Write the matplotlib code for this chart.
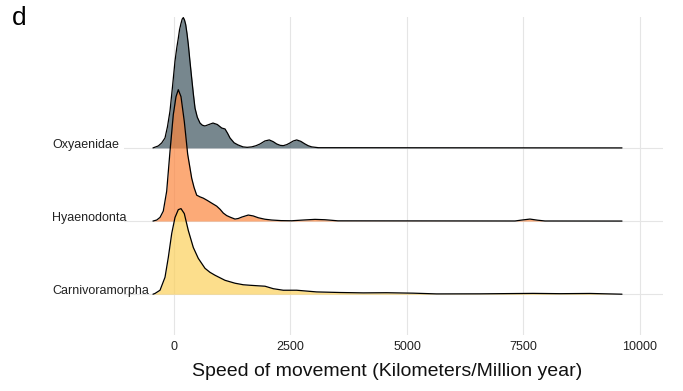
import numpy as np
import matplotlib.pyplot as plt

plt.rcParams['font.family'] = ['Liberation Sans', 'DejaVu Sans']

# Ridge rows, bottom to top
groups = ['Carnivoramorpha', 'Hyaenodonta', 'Oxyaenidae']
fill_colors = ['#fbd05b', '#fc863e', '#3d545f']

# Density ridges: speed (km/Myr) and ridge height (in row units)
oxy_speed = [-451, -337, -264, -193, -140, -86, -30, 21, 60, 92, 120, 150, 175, 200,
             225, 251, 280, 307, 340, 380, 415, 451, 500, 558, 610, 665, 750, 837,
             930, 1024, 1095, 1150, 1202, 1290, 1373, 1481, 1570, 1667, 1760, 1846,
             1950, 2045, 2130, 2204, 2280, 2346, 2420, 2489, 2560, 2633, 2720, 2811,
             2880, 2955, 3100, 9614]
oxy_height = [0, 0.027, 0.068, 0.136, 0.29, 0.503, 0.85, 1.184, 1.37, 1.497, 1.62,
              1.701, 1.76, 1.782, 1.75, 1.687, 1.56, 1.415, 1.20, 0.952, 0.74, 0.544,
              0.42, 0.34, 0.31, 0.30, 0.32, 0.34, 0.32, 0.272, 0.259, 0.20, 0.136,
              0.07, 0.041, 0.014, 0.008, 0.014, 0.03, 0.054, 0.095, 0.109, 0.085,
              0.054, 0.035, 0.031, 0.045, 0.068, 0.095, 0.109, 0.09, 0.054, 0.03,
              0.014, 0.003, 0]

hya_speed = [-451, -371, -300, -230, -157, -86, -15, 43, 92, 150, 221, 294, 380, 430,
             487, 560, 629, 720, 809, 916, 990, 1058, 1130, 1202, 1309, 1380, 1453,
             1594, 1700, 1809, 1950, 2097, 2300, 2526, 2800, 3026, 3240, 3519, 7318,
             7480, 7639, 7800, 7961, 9614]
hya_height = [0, 0.014, 0.05, 0.136, 0.408, 0.952, 1.456, 1.701, 1.796, 1.701, 1.361,
              0.912, 0.585, 0.46, 0.354, 0.33, 0.313, 0.28, 0.245, 0.204, 0.16, 0.109,
              0.075, 0.054, 0.027, 0.035, 0.054, 0.082, 0.07, 0.045, 0.025, 0.014,
              0.006, 0.004, 0.015, 0.023, 0.018, 0.003, 0.001, 0.015, 0.027, 0.012,
              0.001, 0]

car_speed = [-451, -408, -300, -193, -122, -49, 21, 92, 150, 221, 307, 414, 521, 665,
             770, 880, 1094, 1309, 1487, 1631, 1800, 1953, 2131, 2345, 2633, 3062,
             3562, 4062, 4564, 5129, 5637, 6567, 7704, 8283, 8927, 9614]
car_height = [0, 0.010, 0.054, 0.231, 0.503, 0.830, 1.048, 1.156, 1.170, 1.102, 0.871,
              0.639, 0.490, 0.354, 0.30, 0.259, 0.190, 0.150, 0.129, 0.122, 0.115,
              0.109, 0.075, 0.054, 0.054, 0.031, 0.023, 0.018, 0.020, 0.014, 0.004,
              0.005, 0.011, 0.007, 0.010, 0]

speeds = [car_speed, hya_speed, oxy_speed]
heights = [car_height, hya_height, oxy_height]

x_ticks = [0, 2500, 5000, 7500, 10000]

fig = plt.figure(figsize=(6.83, 3.91), dpi=100)
ax = fig.add_axes([124 / 683, 56 / 391, 539 / 683, 318 / 391])

# top ridge drawn first so the lower ones overlap it
for i in reversed(range(len(groups))):
    base = i + 1
    x = np.array(speeds[i])
    y = base + np.array(heights[i])
    z = 3 + 2 * (2 - i)
    ax.fill_between(x, base, y, color=fill_colors[i], alpha=0.7, lw=0, zorder=z)
    ax.plot(x, y, color='black', lw=0.9, zorder=z + 1,
            solid_joinstyle='round', solid_capstyle='round')

ax.set_xlim(-1073, 10494)
ax.set_ylim(0.442, 4.79)
ax.set_xticks(x_ticks)
ax.set_xticklabels([str(t) for t in x_ticks])
ax.set_yticks([1, 2, 3])
ax.set_yticklabels(groups)
ax.grid(True, color='#e5e5e5', lw=0.8, zorder=0)
ax.set_axisbelow(True)
for s in ax.spines.values():
    s.set_visible(False)

ax.tick_params(axis='x', length=0, pad=4, labelsize=9, labelcolor='#222222')
ax.tick_params(axis='y', length=0, pad=51.8, labelsize=9, labelcolor='#222222')
for lab in ax.get_yticklabels():
    lab.set_horizontalalignment('left')
    lab.set_verticalalignment('baseline')

fig.text(387.5 / 683, 1 - 371 / 391, 'Speed of movement (Kilometers/Million year)',
         ha='center', va='center', fontsize=14, color='#111111')
fig.text(12 / 683, 1 - 6 / 391, 'd', ha='left', va='top', fontsize=19)

fig.savefig('out.png', dpi=100)
